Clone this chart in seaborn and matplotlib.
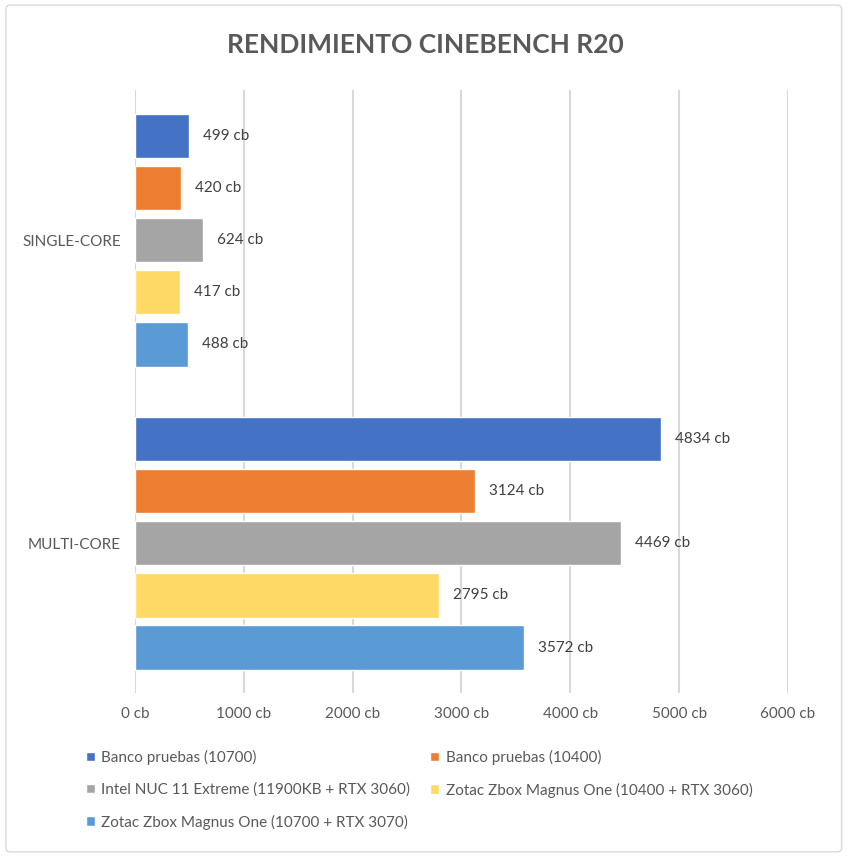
import pandas as pd
import seaborn as sns
import matplotlib.pyplot as plt
from matplotlib.patches import FancyBboxPatch

# Datos Cinebench R20
tipos = ['SINGLE-CORE', 'MULTI-CORE']
sistemas = ['Banco pruebas (10700)', 'Banco pruebas (10400)',
            'Intel NUC 11 Extreme (11900KB + RTX 3060)',
            'Zotac Zbox Magnus One (10400 + RTX 3060)',
            'Zotac Zbox Magnus One (10700 + RTX 3070)']
single_core = [499, 420, 624, 417, 488]
multi_core = [4834, 3124, 4469, 2795, 3572]
colores = ['#4472C4', '#ED7D31', '#A5A5A5', '#FFD966', '#5B9BD5']
xticks = [0, 1000, 2000, 3000, 4000, 5000, 6000]

df = pd.DataFrame({
    'tipo': [tipos[0]] * 5 + [tipos[1]] * 5,
    'sistema': sistemas * 2,
    'valor': single_core + multi_core,
})

sns.set_style('white')
plt.rcParams['font.family'] = ['Lato', 'DejaVu Sans']
texto = '#595959'

fig = plt.figure(figsize=(8.51, 8.57), dpi=100)
ax = fig.add_axes([0.1586, 0.191, 0.7674, 0.704])

sns.barplot(data=df, y='tipo', x='valor', hue='sistema', order=tipos,
            hue_order=sistemas, palette=colores, saturation=1, orient='h',
            width=0.86, gap=0.15, ax=ax, legend=True)

for cont in ax.containers:
    ax.bar_label(cont, labels=[f'{v:.0f} cb' for v in cont.datavalues],
                 padding=10, fontsize=11, color='#404040')

ax.set_xlim(0, 6000)
ax.set_ylim(1.495, -0.495)
ax.set_xticks(xticks)
ax.set_xticklabels([f'{t} cb' for t in xticks])
ax.tick_params(axis='both', length=0, labelsize=11, labelcolor=texto, pad=10)
ax.xaxis.grid(True, color='#D9D9D9', linewidth=1.5)
ax.set_axisbelow(True)
for s in ax.spines.values():
    s.set_visible(False)
ax.set_xlabel('')
ax.set_ylabel('')

fig.text(0.5, 0.947, 'RENDIMIENTO CINEBENCH R20', ha='center', va='center',
         fontsize=19, fontweight='bold', color=texto)

handles, labels = ax.get_legend_handles_labels()
orden = [0, 2, 4, 1, 3]
ax.legend([handles[i] for i in orden], [labels[i] for i in orden],
          ncol=2, loc='upper left', bbox_to_anchor=(0.085, 0.141),
          bbox_transform=fig.transFigure, frameon=False, fontsize=11,
          labelcolor=texto, handlelength=0.6, handleheight=0.6,
          handletextpad=0.4, columnspacing=1.3, labelspacing=1.15)

fig.patches.append(FancyBboxPatch((0.007, 0.006), 0.982, 0.988,
                                  boxstyle='round,pad=0,rounding_size=0.005',
                                  transform=fig.transFigure, fill=False,
                                  edgecolor='#D9D9D9', linewidth=1))

plt.savefig('out.png', dpi=100)
